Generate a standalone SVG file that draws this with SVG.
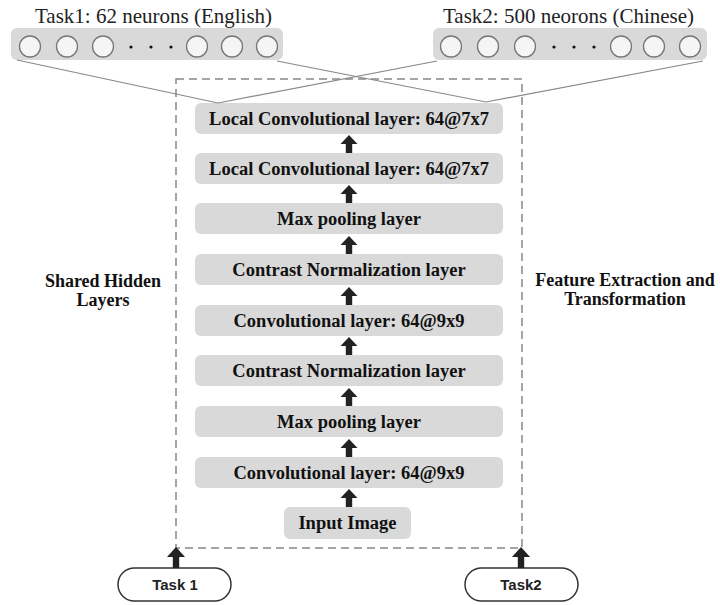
<svg xmlns="http://www.w3.org/2000/svg" width="720" height="605" viewBox="0 0 720 605">
<defs>
<style>
.title{font-family:"Liberation Serif","Times New Roman",serif;font-size:21px;fill:#222;}
.bar{fill:#d9d9d9;}
.neuron{fill:#f5f5f5;stroke:#777;stroke-width:1.3;}
.dot{fill:#111;}
.layer{fill:#d9d9d9;}
.ltext{font-family:"Liberation Serif","Times New Roman",serif;font-size:18.5px;font-weight:bold;fill:#111;text-anchor:middle;}
.side{font-family:"Liberation Serif","Times New Roman",serif;font-size:18px;font-weight:bold;fill:#111;text-anchor:middle;}
.task{fill:#fff;stroke:#333;stroke-width:1.5;}
.ttext{font-family:"Liberation Sans",Arial,sans-serif;font-size:15px;font-weight:bold;fill:#222;text-anchor:middle;}
.link{fill:none;stroke:#888;stroke-width:1.2;}
.frame{fill:none;stroke:#888;stroke-width:1.5;stroke-dasharray:8 5;}
.arr{fill:#222;}
</style>
<path id="up" d="M0,0 L8.5,9 L3.2,9 L3.2,18 L-3.2,18 L-3.2,9 L-8.5,9 Z"/>
<path id="upT" d="M0,0 L9,10 L3.2,10 L3.2,21 L-3.2,21 L-3.2,10 L-9,10 Z"/>
</defs>
<rect width="720" height="605" fill="#fff"/>

<g id="task1-output">
<text class="title" x="35" y="23">Task1: 62 neurons (English)</text>
<rect class="bar" x="11" y="28" width="272" height="32" rx="6"/>
<circle class="neuron" cx="30" cy="46.5" r="10.5"/>
<circle class="neuron" cx="67" cy="46.5" r="10.5"/>
<circle class="neuron" cx="103" cy="46.5" r="10.5"/>
<circle class="dot" cx="131" cy="47" r="1.6"/>
<circle class="dot" cx="151" cy="47" r="1.6"/>
<circle class="dot" cx="171" cy="47" r="1.6"/>
<circle class="neuron" cx="197" cy="46.5" r="10.5"/>
<circle class="neuron" cx="232" cy="46.5" r="10.5"/>
<circle class="neuron" cx="267" cy="46.5" r="10.5"/>
</g>

<g id="task2-output">
<text class="title" x="443" y="23">Task2: 500 neorons (Chinese)</text>
<rect class="bar" x="433" y="28" width="274" height="32" rx="6"/>
<circle class="neuron" cx="451" cy="46.5" r="10.5"/>
<circle class="neuron" cx="488" cy="46.5" r="10.5"/>
<circle class="neuron" cx="525" cy="46.5" r="10.5"/>
<circle class="dot" cx="554" cy="47" r="1.6"/>
<circle class="dot" cx="574" cy="47" r="1.6"/>
<circle class="dot" cx="594" cy="47" r="1.6"/>
<circle class="neuron" cx="621" cy="46.5" r="10.5"/>
<circle class="neuron" cx="654" cy="46.5" r="10.5"/>
<circle class="neuron" cx="690" cy="46.5" r="10.5"/>
</g>

<g id="shared-frame">
<rect class="frame" x="176" y="79" width="346" height="469"/>
</g>

<g id="label-shared">
<text class="side" x="103" y="287">Shared Hidden</text>
<text class="side" x="103" y="306">Layers</text>
</g>
<g id="label-feature">
<text class="side" x="625" y="286">Feature Extraction and</text>
<text class="side" x="625" y="305">Transformation</text>
</g>

<g id="layer-local2">
<rect class="layer" x="195" y="103" width="308" height="31" rx="6"/>
<text class="ltext" x="349" y="124.5">Local Convolutional layer: 64@7x7</text>
</g>
<g id="layer-local1">
<rect class="layer" x="195" y="153" width="308" height="31" rx="6"/>
<text class="ltext" x="349" y="174.5">Local Convolutional layer: 64@7x7</text>
</g>
<g id="layer-maxpool2">
<rect class="layer" x="195" y="203" width="308" height="31" rx="6"/>
<text class="ltext" x="349" y="224.5">Max pooling layer</text>
</g>
<g id="layer-contrast2">
<rect class="layer" x="195" y="254" width="308" height="31" rx="6"/>
<text class="ltext" x="349" y="275.5">Contrast Normalization layer</text>
</g>
<g id="layer-conv2">
<rect class="layer" x="195" y="305" width="308" height="31" rx="6"/>
<text class="ltext" x="349" y="326.5">Convolutional layer: 64@9x9</text>
</g>
<g id="layer-contrast1">
<rect class="layer" x="195" y="355" width="308" height="31" rx="6"/>
<text class="ltext" x="349" y="376.5">Contrast Normalization layer</text>
</g>
<g id="layer-maxpool1">
<rect class="layer" x="195" y="406" width="308" height="31" rx="6"/>
<text class="ltext" x="349" y="427.5">Max pooling layer</text>
</g>
<g id="layer-conv1">
<rect class="layer" x="195" y="457" width="308" height="31" rx="6"/>
<text class="ltext" x="349" y="478.5">Convolutional layer: 64@9x9</text>
</g>
<g id="layer-input">
<rect class="layer" x="284" y="507" width="127" height="32" rx="6"/>
<text class="ltext" x="347.5" y="529">Input Image</text>
</g>

<g id="task1">
<rect class="task" x="118" y="568" width="113" height="33" rx="16.5"/>
<text class="ttext" x="175" y="590">Task 1</text>
</g>
<g id="task2">
<rect class="task" x="465" y="568" width="113" height="33" rx="16.5"/>
<text class="ttext" x="521" y="590">Task2</text>
</g>

<g id="connectors">
<polyline class="link" points="17,60 218,103 437,61"/>
<polyline class="link" points="277,61 486,102 703,61"/>
<use href="#up" class="arr" x="349" y="135"/>
<use href="#up" class="arr" x="349" y="185"/>
<use href="#up" class="arr" x="349" y="236"/>
<use href="#up" class="arr" x="349" y="287"/>
<use href="#up" class="arr" x="349" y="337"/>
<use href="#up" class="arr" x="349" y="388"/>
<use href="#up" class="arr" x="349" y="439"/>
<use href="#up" class="arr" x="349" y="489"/>
<use href="#upT" class="arr" x="176" y="547"/>
<use href="#upT" class="arr" x="521" y="547"/>
</g>
</svg>
